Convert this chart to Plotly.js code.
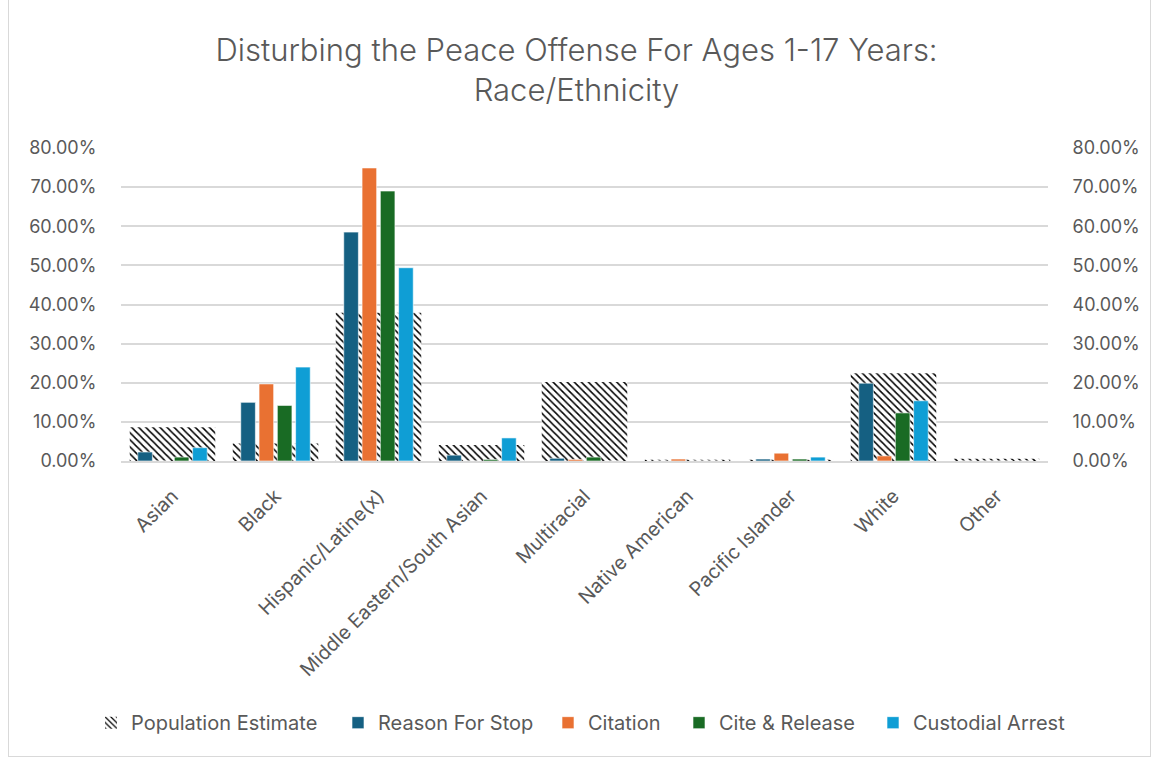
<!DOCTYPE html>
<html>
<head>
<meta charset="utf-8">
<script src="https://cdn.plot.ly/plotly-3.0.1.min.js"></script>
<style>
  html, body { margin: 0; padding: 0; background: #fff; }
  #frame { position: absolute; left: 8px; top: 0; width: 1141px; height: 756px;
           border-left: 1px solid #d9d9d9; border-right: 1px solid #d9d9d9; border-bottom: 1px solid #d9d9d9; }
  #chart { position: absolute; left: 0; top: 0; width: 1153px; height: 759px; }
</style>
</head>
<body>
<div id="frame"></div>
<div id="chart"></div>
<script>
const categories = ["Asian", "Black", "Hispanic/Latine(x)", "Middle Eastern/South Asian",
  "Multiracial", "Native American", "Pacific Islander", "White", "Other"];
const populationEstimate = [0.086, 0.045, 0.379, 0.041, 0.202, 0.003, 0.003, 0.224, 0.006];
const reasonForStop      = [0.023, 0.150, 0.585, 0.015, 0.007, 0.000, 0.005, 0.199, 0.000];
const citation           = [0.000, 0.197, 0.749, 0.000, 0.004, 0.005, 0.020, 0.013, 0.000];
const citeRelease        = [0.010, 0.142, 0.690, 0.004, 0.010, 0.000, 0.005, 0.123, 0.000];
const custodialArrest    = [0.034, 0.240, 0.494, 0.059, 0.000, 0.000, 0.010, 0.154, 0.000];
const tickVals = [0, 0.1, 0.2, 0.3, 0.4, 0.5, 0.6, 0.7, 0.8];

const FONT = "Inter, 'Open Sans', sans-serif";
const GRAY = "#595959";
const CLEAR = "rgba(0,0,0,0)";

// plot area geometry (pixels) used to place the legend entries
const PLOT_L = 121, PLOT_W = 927;
const legendTextStart = [131, 378, 588, 719, 913];

function barTrace(name, y, color, legendId) {
  return {
    type: "bar", name: name, x: categories, y: y,
    xaxis: "x2", yaxis: "y2", legend: legendId,
    marker: { color: color, line: { color: "rgba(255,255,255,0.6)", width: 1 } },
    hoverinfo: "x+y+name"
  };
}

const data = [
  {
    type: "bar", name: "Population Estimate", x: categories, y: populationEstimate,
    xaxis: "x", yaxis: "y", width: 0.83, legend: "legend",
    marker: { color: "white", line: { width: 0 },
      pattern: { shape: "\\", fgcolor: "black", bgcolor: "white", size: 5, solidity: 0.3 } }
  },
  barTrace("Reason For Stop", reasonForStop, "#156082", "legend2"),
  barTrace("Citation", citation, "#E97132", "legend3"),
  barTrace("Cite & Release", citeRelease, "#196B24", "legend4"),
  barTrace("Custodial Arrest", custodialArrest, "#0F9ED5", "legend5")
];

function legendAt(i) {
  return {
    orientation: "h", xanchor: "left", yanchor: "middle", y: -0.836,
    x: (legendTextStart[i] - 40 - PLOT_L) / PLOT_W,
    font: { family: FONT, size: 20, color: GRAY }, itemwidth: 30,
    bgcolor: CLEAR, borderwidth: 0
  };
}

const layout = {
  width: 1153, height: 759,
  margin: { l: 121, r: 105, t: 148, b: 298 },
  paper_bgcolor: CLEAR, plot_bgcolor: CLEAR,
  font: { family: FONT, color: GRAY, size: 18 },
  title: {
    text: "Disturbing the Peace Offense For Ages 1-17 Years:<br>Race/Ethnicity",
    font: { family: FONT, size: 31, color: GRAY, weight: 300 },
    x: 0.5, xanchor: "center", y: 0.92, yanchor: "top"
  },
  barmode: "group", bargap: 0.29, bargroupgap: 0.2,
  xaxis: {
    type: "category", tickangle: -45, showgrid: false,
    showline: true, linecolor: "#d9d9d9", linewidth: 2,
    ticks: "outside", ticklen: 14, tickcolor: CLEAR,
    tickfont: { family: FONT, size: 19.5, color: GRAY }, zeroline: false
  },
  xaxis2: { type: "category", overlaying: "x", matches: "x", visible: false },
  yaxis: {
    range: [0, 0.8], tickvals: tickVals, tickformat: ".2%",
    showgrid: true, gridcolor: "#d9d9d9", gridwidth: 2, zeroline: false,
    ticks: "outside", ticklen: 20, tickcolor: CLEAR, showline: false,
    tickfont: { family: FONT, size: 18, color: GRAY }
  },
  yaxis2: {
    range: [0, 0.8], tickvals: tickVals, tickformat: ".2%", overlaying: "y", side: "right",
    showgrid: false, zeroline: false, ticks: "outside", ticklen: 20, tickcolor: CLEAR,
    tickfont: { family: FONT, size: 18, color: GRAY }
  },
  showlegend: true,
  legend: legendAt(0),
  legend2: legendAt(1),
  legend3: legendAt(2),
  legend4: legendAt(3),
  legend5: legendAt(4)
};

Plotly.newPlot("chart", data, layout, { displayModeBar: false, staticPlot: true });
</script>
</body>
</html>
